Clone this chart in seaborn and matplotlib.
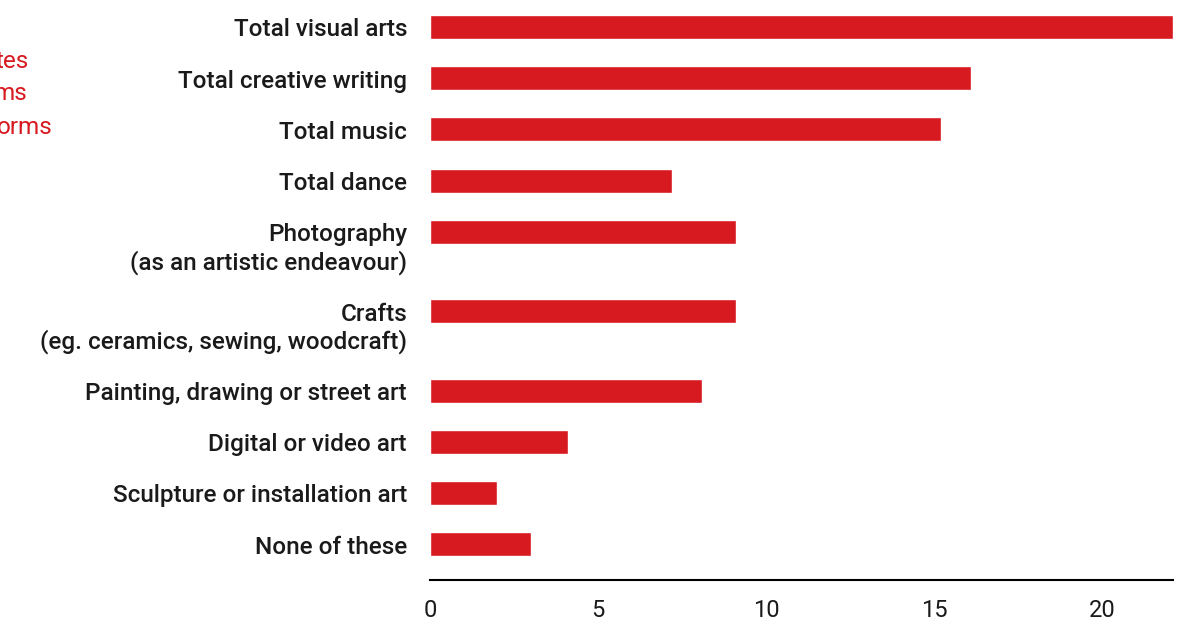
import matplotlib
matplotlib.use("Agg")
import matplotlib.pyplot as plt
import matplotlib.transforms as mtransforms
import seaborn as sns
import numpy as np
import pandas as pd

categories = [
    "Total visual arts",
    "Total creative writing",
    "Total music",
    "Total dance",
    "Photography\n(as an artistic endeavour)",
    "Crafts\n(eg. ceramics, sewing, woodcraft)",
    "Painting, drawing or street art",
    "Digital or video art",
    "Sculpture or installation art",
    "None of these",
]
values = [22.1, 16.1, 15.2, 7.2, 9.1, 9.1, 8.1, 4.1, 2.0, 3.0]
x_ticks = [0, 5, 10, 15, 20]
side_text = ["tes", "ms", "orms"]

RED = "#d71920"
INK = "#1a1a1a"
FS = 17.5

sns.set_theme(style="white")
plt.rcParams["font.family"] = ["Roboto", "DejaVu Sans"]

# slot positions: multi-line labels take extra vertical room after them
lines = [c.count("\n") + 1 for c in categories]
pos = np.concatenate([[0.0], np.cumsum([1 + 0.55 * (n - 1) for n in lines[:-1]])])

df = pd.DataFrame({"cat": categories, "val": values, "pos": pos})

fig = plt.figure(figsize=(11.92, 6.25), dpi=100)
ax = fig.add_axes([430 / 1192, 45 / 625, 743 / 1192, 580 / 625])

sns.barplot(data=df, x="val", y="pos", orient="h", native_scale=True,
            color=RED, saturation=1, width=0.47, ax=ax)

ax.set_xlim(0, 22.1)
ax.set_ylim(10.8, -0.527)
ax.set_yticks([])

# category labels: first line centred on its bar, extra lines below
trans = mtransforms.blended_transform_factory(ax.transAxes, ax.transData)
shift = mtransforms.ScaledTranslation(-23 / 100, 0.355 * FS / 72, fig.dpi_scale_trans)
for p, c in zip(pos, categories):
    ax.text(0, p, c, transform=trans + shift, ha="right", va="top",
            multialignment="right", fontsize=FS, fontweight="medium",
            color=INK, linespacing=1.2)

ax.set_xticks(x_ticks)
ax.set_xticklabels([str(v) for v in x_ticks], fontsize=17, color=INK,
                   fontweight="normal")
ax.tick_params(axis="x", length=0, pad=14)
ax.set_xlabel("")
ax.set_ylabel("")
for s in ["top", "right", "left"]:
    ax.spines[s].set_visible(False)
ax.spines["bottom"].set_color("black")
ax.spines["bottom"].set_linewidth(1.5)

# red side note, cut off at the left edge of the figure (as in the original)
for txt, (xr, yc) in zip(side_text, [(29, 62), (27, 94), (53, 127)]):
    fig.text(xr / 1192, 1 - yc / 625, txt, ha="right", va="center",
             fontsize=FS, color=RED)

fig.savefig("out.png", dpi=100)
